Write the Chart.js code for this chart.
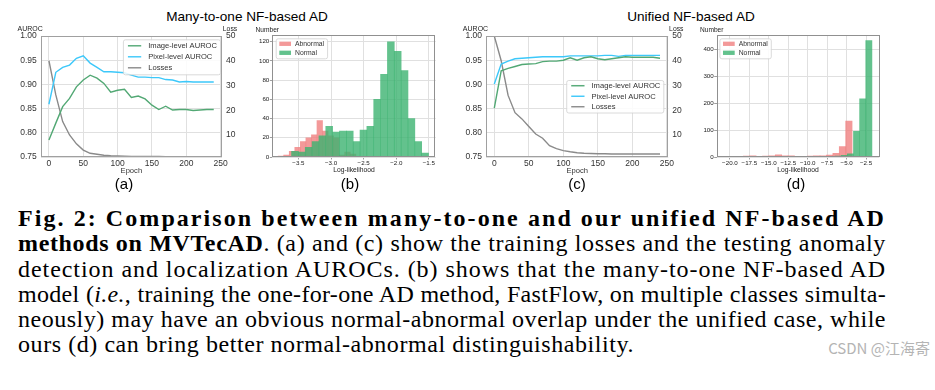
<!DOCTYPE html>
<html>
<head>
<meta charset="utf-8">
<script src="https://cdn.jsdelivr.net/npm/chart.js@4.4.1/dist/chart.umd.min.js"></script>
<style>
  body { margin: 0; background: #fff; width: 935px; height: 390px; overflow: hidden; position: relative;
         font-family: "Liberation Sans", Arial, sans-serif; }
  canvas { position: absolute; }
  .t { position: absolute; white-space: nowrap; color: #000; line-height: 1; transform: translateX(-50%); }
  .sup { font-size: 13.6px; top: 10px; }
  .sub { font-size: 15px; top: 176px; }
  #cap { position: absolute; left: 18px; top: 206px; width: 900px; font-family: "Liberation Serif", serif;
         font-size: 24px; color: #000; }
  #cap div { height: 25.3px; line-height: 25.3px; white-space: nowrap; }
  #wm { position: absolute; right: 5px; top: 337px; font-family: "Noto Sans CJK SC", sans-serif;
        font-size: 15px; color: #b4b4b4; white-space: nowrap; }
</style>
</head>
<body>
<div class="t sup" style="left:247px">Many-to-one NF-based AD</div>
<div class="t sup" style="left:691px">Unified NF-based AD</div>

<canvas id="chartA" width="258" height="160" style="left:0px;top:22px"></canvas>
<canvas id="chartB" width="195" height="160" style="left:250px;top:22px"></canvas>
<canvas id="chartC" width="262" height="160" style="left:445px;top:22px"></canvas>
<canvas id="chartD" width="200" height="160" style="left:690px;top:22px"></canvas>

<div class="t sub" style="left:124px">(a)</div>
<div class="t sub" style="left:350px">(b)</div>
<div class="t sub" style="left:577px">(c)</div>
<div class="t sub" style="left:796px">(d)</div>

<div id="cap">
<div data-w="868"><b>Fig. 2: Comparison between many-to-one and our unified NF-based AD</b></div>
<div data-w="868"><b>methods on MVTecAD</b>. (a) and (c) show the training losses and the testing anomaly</div>
<div data-w="868">detection and localization AUROCs. (b) shows that the many-to-one NF-based AD</div>
<div data-w="868">model (<i>i.e.</i>, training the one-for-one AD method, FastFlow, on multiple classes simulta-</div>
<div data-w="868">neously) may have an obvious normal-abnormal overlap under the unified case, while</div>
<div data-w="616">ours (d) can bring better normal-abnormal distinguishability.</div>
</div>
<div id="wm">CSDN @江海寄</div>

<script>
// ---- data ----
var epochs = [0, 10, 20, 30, 40, 50, 60, 70, 80, 90, 100, 110, 120, 130, 140, 150, 160, 170, 180, 190, 200, 210, 220, 230, 240];

var aImage = [0.785, 0.820, 0.854, 0.871, 0.895, 0.909, 0.919, 0.913, 0.902, 0.884, 0.888, 0.890, 0.873, 0.876, 0.870, 0.857, 0.848, 0.855, 0.847, 0.848, 0.848, 0.846, 0.847, 0.848, 0.848];
var aPixel = [0.859, 0.925, 0.935, 0.940, 0.954, 0.959, 0.944, 0.935, 0.926, 0.926, 0.925, 0.924, 0.919, 0.915, 0.915, 0.914, 0.914, 0.910, 0.909, 0.905, 0.906, 0.905, 0.905, 0.905, 0.905];
var aLoss  = [40, 26.2, 15.4, 10, 6.4, 3.9, 2.6, 2.2, 1.8, 1.6, 1.5, 1.4, 1.3, 1.3, 1.3, 1.3, 1.3, 1.2, 1.2, 1.2, 1.2, 1.2, 1.2, 1.2, 1.2];

var cImage = [0.851, 0.928, 0.933, 0.937, 0.941, 0.942, 0.943, 0.947, 0.948, 0.948, 0.950, 0.955, 0.950, 0.955, 0.957, 0.953, 0.951, 0.953, 0.955, 0.957, 0.956, 0.956, 0.956, 0.956, 0.954];
var cPixel = [0.901, 0.942, 0.948, 0.953, 0.954, 0.955, 0.956, 0.957, 0.957, 0.957, 0.957, 0.959, 0.959, 0.959, 0.959, 0.959, 0.960, 0.960, 0.958, 0.960, 0.960, 0.960, 0.960, 0.960, 0.960];
var cLoss  = [50, 40, 26, 19, 16.5, 13.4, 10.4, 8.7, 5.7, 4.5, 3.7, 3.2, 2.8, 2.6, 2.5, 2.4, 2.4, 2.3, 2.3, 2.3, 2.3, 2.3, 2.3, 2.3, 2.3];

var epochTicks = [0, 50, 100, 150, 200, 250];
var aurocTicks = [0.75, 0.80, 0.85, 0.90, 0.95, 1.00];
var lossTicks  = [10, 20, 30, 40, 50];

// (b) many-to-one histogram
var bAbnEdges  = [-3.81, -3.725, -3.64, -3.555, -3.47, -3.385, -3.30, -3.215, -3.13, -3.045, -2.96, -2.875, -2.79, -2.705, -2.62];
var bAbnCounts = [1, 2, 6, 10, 16, 20, 23, 38, 27, 22, 20, 2, 5, 3];
var bNorEdges  = [-3.605, -3.5, -3.395, -3.29, -3.185, -3.08, -2.975, -2.87, -2.765, -2.66, -2.555, -2.45, -2.345, -2.24, -2.135, -2.03, -1.925, -1.82, -1.715, -1.61, -1.505];
var bNorCounts = [6, 5, 10, 16, 22, 32, 26, 27, 27, 16, 28, 32, 60, 86, 120, 110, 90, 40, 16, 4];
var bXTicks = [-3.5, -3.0, -2.5, -2.0, -1.5];
var bYTicks = [0, 20, 40, 60, 80, 100, 120];

// (d) unified histogram
var dAbnEdges  = [-20.75, -19.9275, -19.105, -18.2825, -17.46, -16.6375, -15.815, -14.9925, -14.17, -13.3475, -12.525, -11.7025, -10.88, -10.0575, -9.235, -8.4125, -7.59, -6.7675, -5.945, -5.1225, -4.30];
var dAbnCounts = [1, 0, 0, 3, 4, 0, 3, 4, 8, 4, 4, 0, 0, 3, 4, 4, 7, 14, 39, 133];
var dNorEdges  = [-7.28, -6.49, -5.70, -4.91, -4.12, -3.33, -2.54, -1.75];
var dNorCounts = [1, 3, 6, 12, 95, 216, 432];
var dXTicks = [-20.0, -17.5, -15.0, -12.5, -10.0, -7.5, -5.0, -2.5];
var dYTicks = [0, 100, 200, 300, 400];

// stretch each caption line to the width it has in the figure
document.querySelectorAll('#cap div').forEach(function (el) {
  var r = document.createRange();
  r.selectNodeContents(el);
  var natural = r.getBoundingClientRect().width;
  var n = el.textContent.length;
  el.style.letterSpacing = ((+el.dataset.w - natural) / n) + 'px';
});

// ---- styling ----
Chart.defaults.font.family = '"Liberation Sans", Arial, sans-serif';
Chart.defaults.color = '#333';
Chart.defaults.animation = false;

var greenLine = '#52a874';
var blueLine = '#3cc8fa';
var grayLine = '#8a8a8a';
var redBar = 'rgba(240,128,128,0.8)';
var greenBar = 'rgba(60,179,113,0.8)';
var gridColor = '#e0e0e0';

function fixTicks(list) {
  return function (s) { s.ticks = list.map(function (v) { return { value: v }; }); };
}
function minusFmt(v) {
  return v < 0 ? '\u2212' + Math.abs(v).toFixed(1) : v.toFixed(1);
}

// box around the plot area
function frame(color) {
  return {
    id: 'frame',
    afterDatasetsDraw: function (chart) {
      var a = chart.chartArea, ctx = chart.ctx;
      ctx.save();
      ctx.strokeStyle = color;
      ctx.lineWidth = 1;
      ctx.strokeRect(Math.round(a.left) + 0.5, Math.round(a.top) + 0.5,
                     Math.round(a.right - a.left) - 1, Math.round(a.bottom - a.top) - 1);
      ctx.restore();
    }
  };
}

// horizontal axis labels above the y axes
function caps(list) {
  return {
    id: 'caps',
    afterDraw: function (chart) {
      var a = chart.chartArea, ctx = chart.ctx;
      ctx.save();
      ctx.fillStyle = '#222';
      ctx.textAlign = 'center';
      ctx.textBaseline = 'middle';
      list.forEach(function (c) {
        ctx.font = c.size + 'px "Liberation Sans", Arial, sans-serif';
        var x = (c.side === 'left' ? a.left : a.right) + c.dx;
        ctx.fillText(c.text, x, a.top - c.dy);
      });
      ctx.restore();
    }
  };
}

// matplotlib-like legend box drawn inside the plot
function legendBox(o) {
  return {
    id: 'legendBox',
    afterDraw: function (chart) {
      var a = chart.chartArea, ctx = chart.ctx, ds = chart.data.datasets;
      ctx.save();
      ctx.font = o.size + 'px "Liberation Sans", Arial, sans-serif';
      var tw = 0;
      ds.forEach(function (d) { tw = Math.max(tw, ctx.measureText(d.label).width); });
      var w = o.padL + o.sw + o.gap + tw + o.padR;
      var h = o.padY * 2 + ds.length * o.row;
      var x0 = o.right !== undefined ? a.right - o.right - w : a.left + o.left;
      var y0 = a.top + o.top;
      ctx.beginPath();
      ctx.roundRect(x0 + 0.5, y0 + 0.5, w, h, 2);
      ctx.fillStyle = 'rgba(255,255,255,0.85)';
      ctx.fill();
      ctx.strokeStyle = '#d0d0d0';
      ctx.lineWidth = 0.8;
      ctx.stroke();
      ds.forEach(function (d, i) {
        var cy = y0 + o.padY + o.row * (i + 0.5);
        var sx = x0 + o.padL;
        if (o.kind === 'line') {
          ctx.strokeStyle = d.borderColor;
          ctx.lineWidth = 1.4;
          ctx.beginPath();
          ctx.moveTo(sx, cy);
          ctx.lineTo(sx + o.sw, cy);
          ctx.stroke();
        } else {
          ctx.fillStyle = d.backgroundColor;
          ctx.fillRect(sx, cy - o.ph / 2, o.sw, o.ph);
        }
        ctx.fillStyle = '#333';
        ctx.textAlign = 'left';
        ctx.textBaseline = 'middle';
        ctx.fillText(d.label, sx + o.sw + o.gap, cy + 0.5);
      });
      ctx.restore();
    }
  };
}

function lineChart(id, img, pix, loss, yw, y1w, legendOpts) {
  return new Chart(document.getElementById(id), {
    type: 'line',
    data: {
      labels: epochs,
      datasets: [
        { label: 'Image-level AUROC', data: img, borderColor: greenLine, yAxisID: 'y' },
        { label: 'Pixel-level AUROC', data: pix, borderColor: blueLine, yAxisID: 'y' },
        { label: 'Losses', data: loss, borderColor: grayLine, yAxisID: 'y1' }
      ]
    },
    options: {
      responsive: false,
      layout: { padding: { top: 14, left: 0, right: 0, bottom: 0 } },
      elements: { point: { radius: 0 }, line: { borderWidth: 1.4, tension: 0 } },
      plugins: { legend: { display: false }, tooltip: { enabled: false } },
      scales: {
        x: {
          type: 'linear', min: -12, max: 252,
          afterBuildTicks: fixTicks(epochTicks),
          afterFit: function (s) { s.height = 25; },
          grid: { color: gridColor, drawTicks: false },
          border: { display: false },
          ticks: { font: { size: 8.5 }, padding: 2, maxRotation: 0, minRotation: 0, autoSkip: false },
          title: { display: true, text: 'Epoch', color: '#333', font: { size: 7.6 }, padding: { top: 0, bottom: 6.7 } }
        },
        y: {
          position: 'left', min: 0.75, max: 1.0,
          afterBuildTicks: fixTicks(aurocTicks),
          afterFit: function (s) { s.width = yw; },
          grid: { color: gridColor, drawTicks: false },
          border: { display: false },
          ticks: { font: { size: 8.5 }, padding: 4, autoSkip: false, callback: function (v) { return v.toFixed(2); } }
        },
        y1: {
          position: 'right', min: 1.1, max: 50,
          afterBuildTicks: fixTicks(lossTicks),
          afterFit: function (s) { s.width = y1w; },
          grid: { drawOnChartArea: false, drawTicks: false },
          border: { display: false },
          ticks: { font: { size: 8.5 }, padding: 4, autoSkip: false }
        }
      }
    },
    plugins: [
      frame('#a0a0a0'),
      caps([
        { text: 'AUROC', side: 'left', dx: -10.5, dy: 6.5, size: 7 },
        { text: 'Loss', side: 'right', dx: 8, dy: 6.5, size: 6.8 }
      ]),
      legendBox(legendOpts)
    ]
  });
}

function bars(edges, counts) {
  return counts.map(function (c, i) { return { x: (edges[i] + edges[i + 1]) / 2, y: c }; });
}

function histChart(id, abnEdges, abnCounts, norEdges, norCounts, xMin, xMax, xTicks, yMax, yTicks, yw, padR, legendLeft) {
  var xCommon = {
    type: 'linear', min: xMin, max: xMax, offset: false,
    afterBuildTicks: fixTicks(xTicks)
  };
  return new Chart(document.getElementById(id), {
    type: 'bar',
    data: {
      datasets: [
        { label: 'Abnormal', data: bars(abnEdges, abnCounts), backgroundColor: redBar, xAxisID: 'x2', order: 1 },
        { label: 'Normal', data: bars(norEdges, norCounts), backgroundColor: greenBar, xAxisID: 'x', order: 0 }
      ]
    },
    options: {
      responsive: false,
      layout: { padding: { top: 13, left: 0, right: padR, bottom: 0 } },
      datasets: { bar: { barPercentage: 1, categoryPercentage: 1, grouped: false, borderWidth: 0 } },
      plugins: { legend: { display: false }, tooltip: { enabled: false } },
      scales: {
        x: Object.assign({}, xCommon, {
          afterFit: function (s) { s.height = 25; },
          grid: { color: gridColor, offset: false, tickLength: 2.5, tickColor: '#888', tickWidth: 0.8 },
          border: { display: false },
          ticks: { font: { size: 6.2 }, color: '#222', padding: 0, maxRotation: 0, minRotation: 0, autoSkip: false, callback: minusFmt },
          title: { display: true, text: 'Log-likelihood', color: '#222', font: { size: 6.75 }, padding: { top: 0, bottom: 8 } }
        }),
        x2: Object.assign({}, xCommon, { display: false, grid: { offset: false } }),
        y: {
          min: 0, max: yMax,
          afterBuildTicks: fixTicks(yTicks),
          afterFit: function (s) { s.width = yw; },
          grid: { color: gridColor, tickLength: 2.5, tickColor: '#888', tickWidth: 0.8 },
          border: { display: false },
          ticks: { font: { size: 6.2 }, color: '#222', padding: 0.5, autoSkip: false }
        }
      }
    },
    plugins: [
      frame('#909090'),
      caps([{ text: 'Number', side: 'left', dx: -5, dy: 5, size: 6.6 }]),
      legendBox({ kind: 'patch', left: legendLeft, top: 3.3, size: 6.8, padL: 3.6, padR: 3, padY: 1, row: 9, sw: 11.7, ph: 4.3, gap: 4 })
    ]
  });
}

lineChart('chartA', aImage, aPixel, aLoss, 40.7, 36,
  { kind: 'line', right: 2, top: 3.3, size: 7.6, padL: 5, padR: 3, padY: 1, row: 11, sw: 13.3, gap: 7 });
lineChart('chartC', cImage, cPixel, cLoss, 41, 38.7,
  { kind: 'line', right: 5, top: 44, size: 7.6, padL: 5, padR: 3, padY: 0.5, row: 10.5, sw: 13.3, gap: 7 });

histChart('chartB', bAbnEdges, bAbnCounts, bNorEdges, bNorCounts, -3.9, -1.395, bXTicks, 127, bYTicks, 22.3, 9.3, 3.4);
histChart('chartD', dAbnEdges, dAbnCounts, dNorEdges, dNorCounts, -21.7, -0.8, dXTicks, 453, dYTicks, 26.7, 10.7, 2.7);
</script>
</body>
</html>
